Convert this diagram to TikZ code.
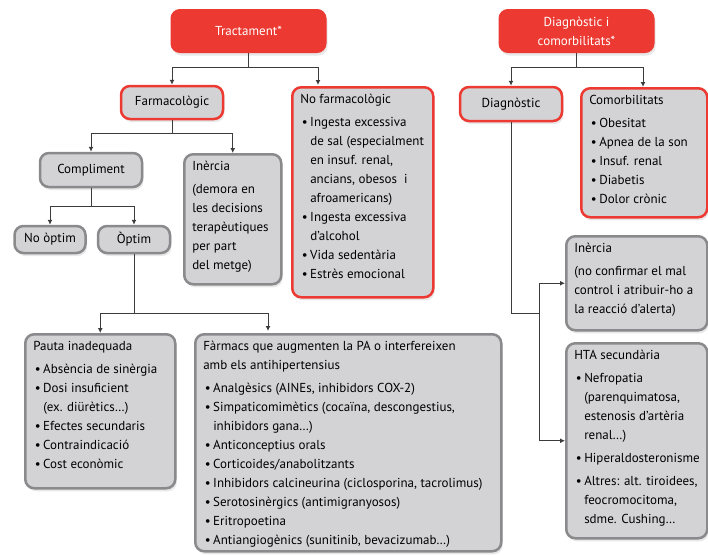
\documentclass[tikz,border=0pt]{standalone}
\usepackage{fontspec}
\setmainfont{PT Sans}
\usetikzlibrary{arrows.meta,shadows}

\definecolor{boxred}{RGB}{236,58,50}
\definecolor{boxgrey}{RGB}{211,211,213}
\definecolor{edgegrey}{RGB}{138,138,140}
\definecolor{linegrey}{RGB}{60,60,60}

\newcommand{\bodyfont}{\fontsize{13}{19}\selectfont}
\newcommand{\boxtext}[3]{\makebox[#2][l]{\parbox[c][#1][t]{400pt}{\raggedright\rule{0pt}{16pt}#3}}}
\newcommand{\itm}[1]{\par\hangindent=10pt\hangafter=1\makebox[10pt][l]{\kern1.5pt\textbullet}#1}

\begin{document}
\begin{tikzpicture}[x=1pt, y=-1pt,
	boxshadow/.style={drop shadow={opacity=0.18, shadow xshift=1.5pt, shadow yshift=-3pt}},
	redfill/.style={draw=boxred, fill=boxred, text=white, line width=1pt, rounded corners=9pt, align=center, font=\bodyfont, boxshadow},
	redbox/.style={draw=boxred, fill=boxgrey, line width=2.5pt, rounded corners=9pt, font=\bodyfont, boxshadow},
	greybox/.style={draw=edgegrey, fill=boxgrey, line width=2.5pt, rounded corners=9pt, font=\bodyfont, boxshadow},
	listbox/.style={anchor=north west, inner xsep=8pt, inner ysep=0pt},
	conn/.style={draw=linegrey, line width=1pt},
	arr/.style={conn, -{Latex[length=5pt,width=5pt]}}]

	\useasboundingbox (0,0) rectangle (708,554);

	\draw (248.5,31) node (trac) [redfill, minimum width=155, minimum height=43] {Tractament*};
	\draw (576.5,31) node (diagcom) [redfill, minimum width=155, minimum height=43] {Diagnòstic i\\comorbilitats*};

	\draw (172,102.5) node (farma) [redbox, minimum width=102, minimum height=33] {Farmacològic};
	\draw (291,86) node (nofarma) [redbox, listbox] {\boxtext{210pt}{125pt}{No farmacològic\par\vspace{4pt}%
		\itm{Ingesta excessiva\newline de sal (especialment\newline en insuf. renal,\newline ancians, obesos\ \ i\newline afroamericans)}%
		\itm{Ingesta excessiva\newline d’alcohol}%
		\itm{Vida sedentària}%
		\itm{Estrès emocional}}};
	\draw (511,104) node (diagn) [redbox, minimum width=102, minimum height=34] {Diagnòstic};
	\draw (580,87) node (comorb) [redbox, listbox] {\boxtext{129pt}{110pt}{Comorbilitats\par\vspace{4pt}%
		\itm{Obesitat}\itm{Apnea de la son}\itm{Insuf. renal}\itm{Diabetis}\itm{Dolor crònic}}};

	\draw (91,170) node (compl) [greybox, minimum width=102, minimum height=34] {Compliment};
	\draw (183,153) node (inerA) [greybox, listbox] {\boxtext{130pt}{81pt}{Inèrcia\par\vspace{4pt}%
		(demora en\newline les decisions\newline terapèutiques\newline per part\newline del metge)}};
	\draw (50,239.5) node (noopt) [greybox, minimum width=71, minimum height=27] {No òptim};
	\draw (134,239.5) node (opt) [greybox, minimum width=72, minimum height=27] {Òptim};

	\draw (24,333) node (pauta) [greybox, listbox] {\boxtext{154pt}{134pt}{Pauta inadequada\par\vspace{4pt}%
		\itm{Absència de sinèrgia}\itm{Dosi insuficient\newline (ex. diürètics…)}\itm{Efectes secundaris}%
		\itm{Contraindicació}\itm{Cost econòmic}}};
	\draw (194,333) node (farmacs) [greybox, listbox] {\boxtext{217pt}{290pt}{Fàrmacs que augmenten la PA o interfereixen\newline amb els antihipertensius\par\vspace{4pt}%
		\itm{Analgèsics (AINEs, inhibidors COX-2)}%
		\itm{Simpaticomimètics (cocaïna, descongestius,\newline inhibidors gana…)}%
		\itm{Anticonceptius orals}%
		\itm{Corticoides/anabolitzants}%
		\itm{Inhibidors calcineurina (ciclosporina, tacrolimus)}%
		\itm{Serotosinèrgics (antimigranyosos)}%
		\itm{Eritropoetina}%
		\itm{Antiangiogènics (sunitinib, bevacizumab…)}}};

	\draw (565,235) node (inerB) [greybox, listbox] {\boxtext{94pt}{125pt}{Inèrcia\par\vspace{4pt}%
		(no confirmar el mal\newline control i atribuir-ho a\newline la reacció d’alerta)}};
	\draw (565,342) node (hta) [greybox, listbox] {\boxtext{195pt}{125pt}{HTA secundària\par\vspace{4pt}%
		\itm{Nefropatia\newline (parenquimatosa,\newline estenosis d’artèria\newline renal…)}\par\vspace{4pt}%
		\itm{Hiperaldosteronisme}\par\vspace{4pt}%
		\itm{Altres: alt. tiroidees,\newline feocromocitoma,\newline sdme. Cushing…}}};

	\coordinate (nfin) at (318,85);
	\coordinate (fin) at (268,331);
	\coordinate (dfork) at (539,313);

	\draw[conn] (trac.south) -- ++(0,14) coordinate (tfork);
	\draw[arr] (tfork) -| (farma.north);
	\draw[arr] (tfork) -| (nfin);

	\draw[conn] (diagcom.south) -- ++(0,14) coordinate (dcfork);
	\draw[arr] (dcfork) -| (diagn.north);
	\draw[arr] (dcfork) -| (comorb.north -| 643,0);

	\draw[conn] (farma.south) -- ++(0,13) coordinate (ffork);
	\draw[arr] (ffork) -| (compl.north);
	\draw[arr] (ffork) -| (inerA.north);

	\draw[conn] (compl.south) -- ++(0,18) coordinate (cfork);
	\draw[arr] (cfork) -| (noopt.north);
	\draw[arr] (cfork) -| (opt.north);

	\draw[conn] (opt.south) -- ++(0,59) coordinate (ofork);
	\draw[arr] (ofork) -| (pauta.north);
	\draw[arr] (ofork) -| (fin);

	\draw[conn] (diagn.south) |- (dfork);
	\draw[arr] (dfork) |- (inerB.west);
	\draw[arr] (dfork) |- (hta.west);
\end{tikzpicture}
\end{document}
